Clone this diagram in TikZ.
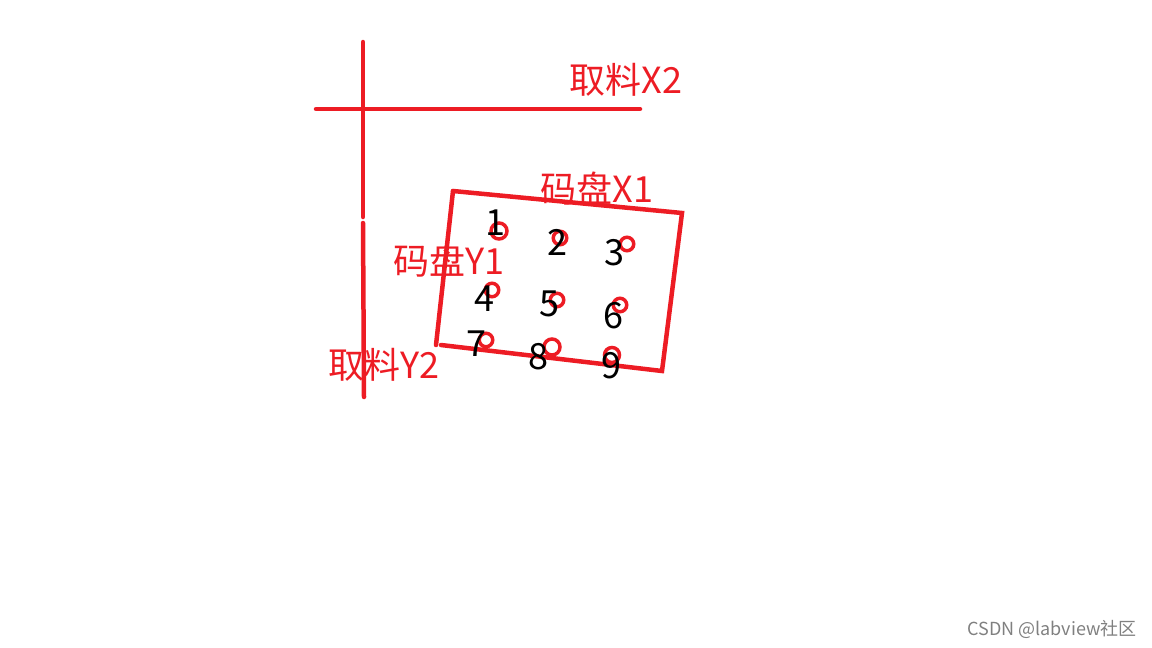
\documentclass[tikz,border=0pt]{standalone}
\usepackage{fontspec}
\setmainfont{Noto Sans CJK SC}
\usetikzlibrary{arrows,positioning}
\definecolor{paintred}{HTML}{ED1C24}

\begin{document}
\begin{tikzpicture}[x=1pt,y=-1pt,line cap=round,
    rail/.style={draw=paintred, line width=4.5pt},
    hole/.style={draw=paintred, line width=3.5pt, circle, inner sep=0pt, minimum size=13.5pt},
    num/.style={font=\fontsize{36}{36}\selectfont, inner sep=0pt},
    lbl/.style={text=paintred, font=\fontsize{36}{36}\selectfont, inner sep=0pt}]
  \useasboundingbox (0,0) rectangle (1152,648);
  % axes of the picker
  \coordinate (YT) at (363,42);
  \coordinate (YM) at (363,217);
  \coordinate (YN) at (363,223);
  \coordinate (YB) at (364,397);
  \coordinate (XL) at (316,109);
  \coordinate (XR) at (640,109);
  \draw[rail] (YT) -- (YM);
  \draw[rail] (YN) -- (YB);
  \draw[rail] (XL) -- (XR);
  % tray
  \coordinate (TL) at (453,191);
  \coordinate (TR) at (682,213);
  \coordinate (BR) at (662,371);
  \coordinate (BL) at (441,345);
  \coordinate (LB) at (436,345);
  \draw[rail] (TL) -- (TR) -- (BR) -- (BL);
  \draw[rail] (TL) -- (LB);
  % holes
  \node (h1) [hole, minimum size=16pt] at (499,231) {};
  \node (h2) [hole] at (560,238) {};
  \node (h3) [hole] at (627,244) {};
  \node (h4) [hole] at (492,290) {};
  \node (h5) [hole] at (557,300) {};
  \node (h6) [hole] at (620,305) {};
  \node (h7) [hole] at (486,340) {};
  \node (h8) [hole, minimum width=16pt] at (552,347) {};
  \node (h9) [hole, minimum width=15pt] at (612,355) {};
  % numbers
  \node (n1) [num] at (495,223) {1};
  \node (n2) [num] at (557,242) {2};
  \node (n3) [num] at (614,253) {3};
  \node (n4) [num] at (484,299) {4};
  \node (n5) [num] at (549,304) {5};
  \node (n6) [num] at (613,316) {6};
  \node (n7) [num] at (476,344) {7};
  \node (n8) [num] at (538,357) {8};
  \node (n9) [num] at (611,366) {9};
  % labels
  \node (X2) [lbl] at (626,80)  {取料X2};
  \node (X1) [lbl] at (597,189) {码盘X1};
  \node (Y1) [lbl] at (449,261) {码盘Y1};
  \node (Y2) [lbl] at (384,365) {取料Y2};
  \node (wm) [text=gray, font=\fontsize{18}{18}\selectfont, inner sep=0pt] at (1052,629) {CSDN @labview社区};
\end{tikzpicture}
\end{document}
